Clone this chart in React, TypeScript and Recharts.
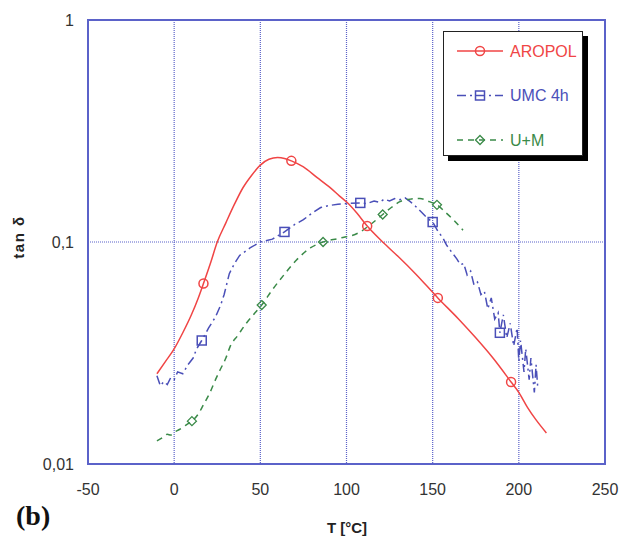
import {
    LineChart,
    Line,
    XAxis,
    YAxis,
    CartesianGrid,
    ReferenceArea,
    Legend,
} from "recharts";

// [T in °C, tan δ]
const aropolPoints: [number, number][] = [
    [-10, 0.0255], [-5, 0.029], [0, 0.033], [5, 0.039], [10, 0.047], [14, 0.056],
    [17, 0.065], [21, 0.08], [25, 0.1], [30, 0.122], [35, 0.148], [40, 0.176],
    [45, 0.2], [50, 0.222], [55, 0.236], [60, 0.24], [64, 0.238], [68, 0.232],
    [75, 0.218], [83, 0.195], [90, 0.177], [96, 0.161], [101, 0.149], [106, 0.135],
    [112, 0.118], [121, 0.1], [130, 0.086], [140, 0.072], [153, 0.056], [165, 0.045],
    [175, 0.037], [185, 0.03], [195.5, 0.0234], [200, 0.021], [205, 0.018],
    [210, 0.0158], [216, 0.0138],
];
const aropolMarks = [17, 68, 112, 153, 195.5];

const umcPoints: [number, number][] = [
    [-10, 0.025], [-8, 0.0225], [-6, 0.0235], [-4, 0.0228], [-2, 0.0245], [0, 0.024],
    [2, 0.026], [5, 0.0255], [8, 0.028], [11, 0.03], [13, 0.033], [16, 0.036],
    [20, 0.041], [24, 0.046], [27, 0.052], [29, 0.058], [32, 0.072], [35, 0.08],
    [38, 0.087], [44, 0.094], [50, 0.1], [57, 0.103], [64, 0.111], [70, 0.12],
    [75, 0.126], [80, 0.135], [85, 0.143], [90, 0.146], [95, 0.148], [100, 0.149],
    [108, 0.15], [112, 0.149], [116, 0.153], [119, 0.151], [122, 0.156], [125, 0.153],
    [128, 0.157], [131, 0.155], [134, 0.158], [137, 0.152], [140, 0.145], [144, 0.135],
    [147, 0.128], [150, 0.123], [153, 0.112], [156, 0.104], [158, 0.097], [161, 0.09],
    [164, 0.084], [166, 0.079], [168, 0.08], [170, 0.071], [172, 0.074], [174, 0.064],
    [176, 0.066], [178, 0.058], [180, 0.06], [182, 0.05], [184, 0.056], [186, 0.045],
    [188, 0.048], [189, 0.039], [191, 0.047], [193, 0.037], [195, 0.043], [197, 0.034],
    [199, 0.041], [200, 0.029], [201, 0.036], [203, 0.026], [204, 0.033], [206, 0.024],
    [207, 0.03], [209, 0.021], [210, 0.028], [211, 0.022],
];
const umcMarks = [16, 64, 108, 150, 189];

const umPoints: [number, number][] = [
    [-10, 0.0127], [-7, 0.0131], [-4, 0.0136], [-2, 0.0135], [0, 0.0139], [3, 0.0143],
    [7, 0.015], [10.3, 0.0156], [14, 0.0168], [17, 0.0185], [20.8, 0.021], [24, 0.024],
    [26.6, 0.0265], [30, 0.03], [32.4, 0.0337], [37, 0.038], [42, 0.0432], [46, 0.047],
    [50.8, 0.052], [57, 0.061], [63, 0.07], [71, 0.083], [79, 0.094], [86.4, 0.1],
    [96, 0.104], [107, 0.11], [114, 0.12], [121, 0.133], [126, 0.143], [131, 0.152],
    [137, 0.156], [142.6, 0.157], [148, 0.152], [152.5, 0.147], [157, 0.137],
    [162, 0.126], [167.6, 0.113],
];
const umMarks = [10.3, 50.8, 86.4, 121, 152.5];

const xTicks = [-50, 0, 50, 100, 150, 200, 250];
const yTicks = [0.01, 0.1, 1];

const BORDER = "#5b62c9";
const TICK = { fontSize: 16, fill: "#333", fontFamily: "Liberation Sans, Arial, sans-serif" };

type Shape = "circle" | "square" | "diamond";

const series = [
    { key: "aropol", name: "AROPOL", color: "#f04545", dash: undefined, curve: "monotone", shape: "circle" as Shape, points: aropolPoints, marks: aropolMarks },
    { key: "umc", name: "UMC 4h", color: "#4a4fb8", dash: "9 4 2 4", curve: "linear", shape: "square" as Shape, points: umcPoints, marks: umcMarks },
    { key: "um", name: "U+M", color: "#3a8a48", dash: "6 5", curve: "monotone", shape: "diamond" as Shape, points: umPoints, marks: umMarks },
];

function marker(shape: Shape, color: string, cx: number, cy: number, key?: string) {
    if (shape === "circle") {
        return <circle key={key} cx={cx} cy={cy} r={4.5} fill="none" stroke={color} strokeWidth={1.5} />;
    }
    if (shape === "square") {
        return <rect key={key} x={cx - 4.5} y={cy - 4.5} width={9} height={9} fill="none" stroke={color} strokeWidth={1.5} />;
    }
    return (
        <path
            key={key}
            d={`M${cx},${cy - 4.5}L${cx + 4.5},${cy}L${cx},${cy + 4.5}L${cx - 4.5},${cy}Z`}
            fill="none"
            stroke={color}
            strokeWidth={1.3}
        />
    );
}

function renderLegend() {
    return (
        <div
            style={{
                width: 140,
                height: 125,
                boxSizing: "border-box",
                background: "#fff",
                border: "1.5px solid #222",
                boxShadow: "5px 5px 0 #000",
            }}
        >
            <svg width={137} height={122}>
                {series.map((s, i) => {
                    const y = 19 + i * 44.5;
                    return (
                        <g key={s.key}>
                            <line x1={13} x2={59} y1={y} y2={y} stroke={s.color} strokeWidth={1.5} strokeDasharray={s.dash} />
                            {marker(s.shape, s.color, 36, y)}
                            <text
                                x={66}
                                y={y}
                                dy="0.36em"
                                fill={s.color}
                                fontSize={16}
                                fontFamily="Liberation Sans, Arial, sans-serif"
                            >
                                {s.name}
                            </text>
                        </g>
                    );
                })}
            </svg>
        </div>
    );
}

export default function App() {
    return (
        <div style={{ position: "absolute", left: 0, top: 0, width: 622, height: 538, background: "#fff" }}>
            <LineChart width={622} height={538} margin={{ top: 20, right: 17, bottom: 44, left: 28 }}>
                <CartesianGrid stroke={BORDER} strokeDasharray="1 1" strokeWidth={1.2} />
                <XAxis
                    type="number"
                    dataKey="T"
                    domain={[-50, 250]}
                    ticks={xTicks}
                    allowDuplicatedCategory={false}
                    height={30}
                    tickLine={false}
                    axisLine={false}
                    tickMargin={14}
                    tick={TICK}
                />
                <YAxis
                    type="number"
                    scale="log"
                    domain={[0.01, 1]}
                    ticks={yTicks}
                    allowDataOverflow
                    width={60}
                    tickLine={false}
                    axisLine={false}
                    tickMargin={8}
                    tick={TICK}
                    tickFormatter={(v: number) => String(v).replace(".", ",")}
                />
                <ReferenceArea x1={-50} x2={250} y1={0.01} y2={1} fill="none" stroke={BORDER} strokeWidth={2} />
                {series.map((s) => (
                    <Line
                        key={s.key}
                        name={s.name}
                        data={s.points.map(([T, v]) => ({ T, v, m: s.marks.includes(T) }))}
                        dataKey="v"
                        type={s.curve as any}
                        stroke={s.color}
                        strokeWidth={1.5}
                        strokeDasharray={s.dash}
                        isAnimationActive={false}
                        activeDot={false}
                        dot={(p: any) =>
                            p.payload && p.payload.m ? (
                                marker(s.shape, s.color, p.cx, p.cy, `${s.key}-${p.index}`)
                            ) : (
                                <g key={`${s.key}-${p.index}`} />
                            )
                        }
                    />
                ))}
                <Legend
                    content={renderLegend}
                    layout="vertical"
                    align="center"
                    verticalAlign="middle"
                    wrapperStyle={{ left: 443, top: 31, width: 140, height: 125 }}
                />
            </LineChart>

            {/* axis titles */}
            <div
                style={{
                    position: "absolute",
                    left: 18,
                    top: 237,
                    transform: "translate(-50%, -50%) rotate(-90deg)",
                    fontFamily: "Liberation Sans, Arial, sans-serif",
                    fontWeight: 700,
                    fontSize: 15,
                    letterSpacing: 1.5,
                    color: "#222",
                    whiteSpace: "nowrap",
                }}
            >
                tan δ
            </div>
            <div
                style={{
                    position: "absolute",
                    left: 347,
                    top: 527,
                    transform: "translate(-50%, -50%)",
                    fontFamily: "Liberation Sans, Arial, sans-serif",
                    fontWeight: 700,
                    fontSize: 15,
                    color: "#222",
                    whiteSpace: "nowrap",
                }}
            >
                T [°C]
            </div>
            <div
                style={{
                    position: "absolute",
                    left: 16,
                    top: 516,
                    transform: "translateY(-50%)",
                    fontFamily: "Liberation Serif, Times New Roman, serif",
                    fontWeight: 700,
                    fontSize: 28,
                    color: "#111",
                    whiteSpace: "nowrap",
                }}
            >
                (b)
            </div>
        </div>
    );
}
